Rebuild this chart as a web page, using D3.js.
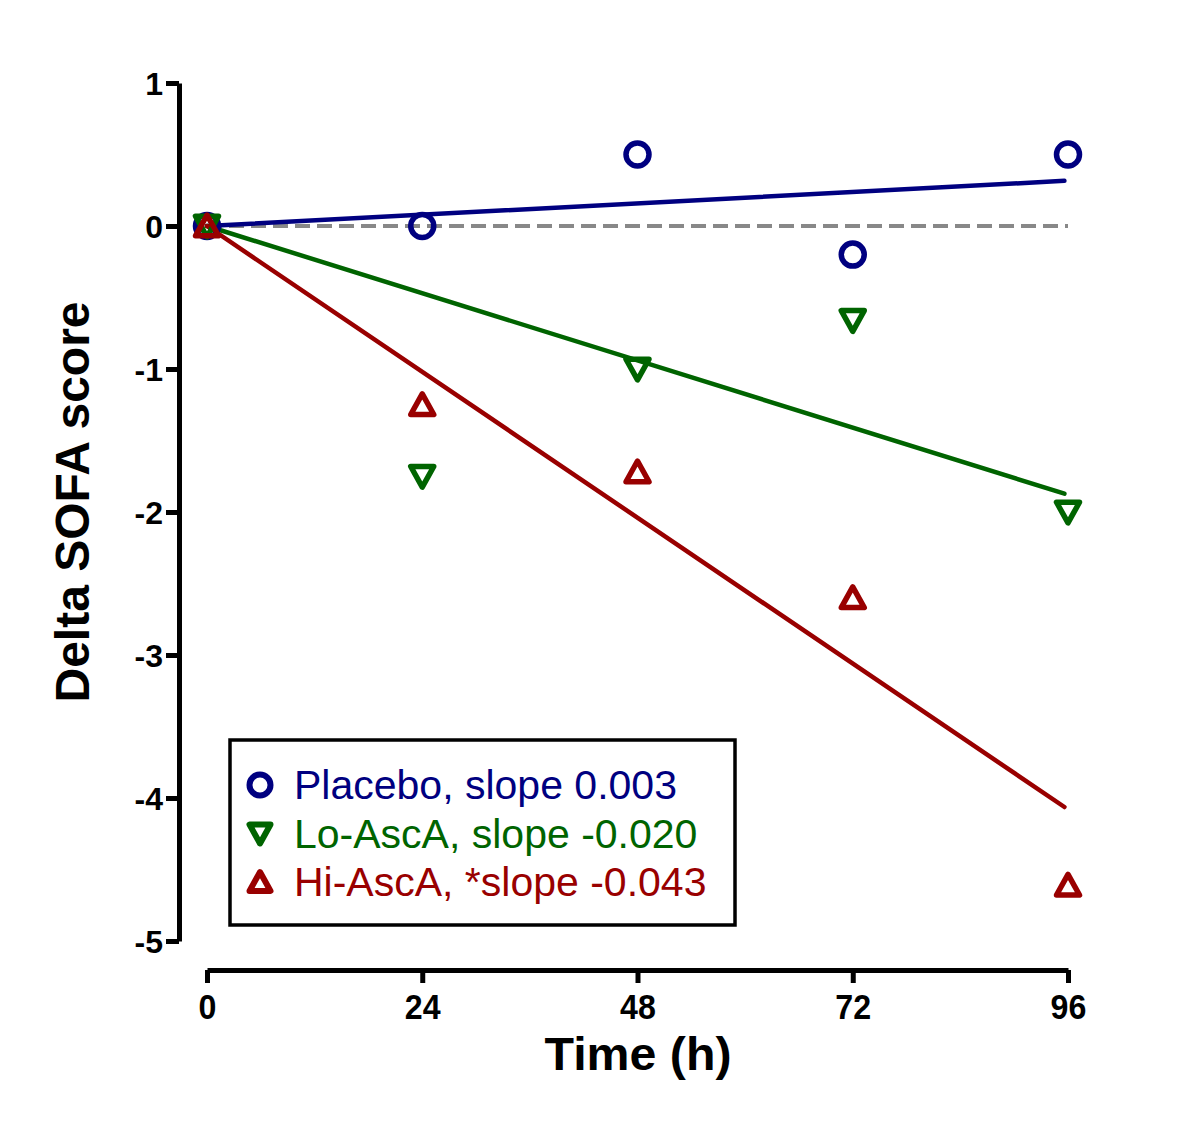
<html>
  <head>
    <meta charset="utf-8">
    <title>Delta SOFA score</title>
    <script src="https://cdnjs.cloudflare.com/ajax/libs/d3/7.8.5/d3.min.js"></script>
    <style>
      body { margin: 0; background: white; }
    </style>
  </head>
  <body>
    <script>
      // hours of measurement
      var hours = [0, 24, 48, 72, 96];
      var xTicks = [0, 24, 48, 72, 96];
      var yTicks = [1, 0, -1, -2, -3, -4, -5];

      // mean delta SOFA per group
      var placebo = [0, 0, 0.5, -0.2, 0.5];
      var loAscA = [0, -1.75, -1.0, -0.66, -2.0];
      var hiAscA = [0, -1.25, -1.72, -2.6, -4.61];

      // fitted line values at 0 h and 96 h
      var placeboFit = [0, 0.317];
      var loFit = [0, -1.88];
      var hiFit = [0, -4.08];

      var legendLabels = ["Placebo, slope 0.003", "Lo-AscA, slope -0.020", "Hi-AscA, *slope -0.043"];

      var width = 1200;
      var height = 1128;
      var font = "'Liberation Sans', Arial, sans-serif";

      var svg = d3.select("body")
        .append("svg")
        .attr("width", width)
        .attr("height", height);

      var xScale = d3.scaleLinear()
        .domain([0, 96])
        .range([207, 1068]);

      var yScale = d3.scaleLinear()
        .domain([-5, 1])
        .range([941, 83]);

      var groups = [
        { name: "placebo", values: placebo, fit: placeboFit, color: "#000080", shape: "circle" },
        { name: "lo", values: loAscA, fit: loFit, color: "#006400", shape: "down" },
        { name: "hi", values: hiAscA, fit: hiFit, color: "#990000", shape: "up" }
      ];

      function shapePath(shape, s) {
        // s = half width of the triangle
        if (shape == "up") return "M0," + (-s * 0.95) + "L" + s + "," + (s * 0.85) + "L" + (-s) + "," + (s * 0.85) + "Z";
        return "M" + (-s) + "," + (-s * 0.85) + "L" + s + "," + (-s * 0.85) + "L0," + (s * 0.95) + "Z";
      }

      function drawMarker(g, shape, color, size, sw) {
        if (shape == "circle") {
          g.append("circle")
            .attr("r", size)
            .attr("fill", "none")
            .attr("stroke", color)
            .attr("stroke-width", sw);
        } else {
          g.append("path")
            .attr("d", shapePath(shape, size))
            .attr("fill", "none")
            .attr("stroke", color)
            .attr("stroke-width", sw)
            .attr("stroke-linejoin", "round");
        }
      }

      // Y axis
      var yAxis = svg.append("g")
        .attr("transform", "translate(179,0)")
        .call(d3.axisLeft(yScale).tickValues(yTicks).tickSize(13).tickSizeOuter(0).tickPadding(3)
          .tickFormat(function(d) { return String(d); }));

      // X axis
      var xAxis = svg.append("g")
        .attr("transform", "translate(0,970)")
        .call(d3.axisBottom(xScale).tickValues(xTicks).tickSize(13).tickSizeOuter(0).tickPadding(11));

      svg.selectAll(".domain")
        .attr("stroke", "black")
        .attr("stroke-width", 5);

      svg.selectAll(".tick line")
        .attr("stroke", "black")
        .attr("stroke-width", 5);

      yAxis.selectAll(".tick text")
        .attr("fill", "black")
        .style("font-family", font)
        .style("font-weight", "bold")
        .style("font-size", "32px")
        .attr("dy", "0.36em");

      xAxis.selectAll(".tick text")
        .attr("fill", "black")
        .style("font-family", font)
        .style("font-weight", "bold")
        .style("font-size", "35px")
        .attr("transform", "scale(0.92,1)");

      // zero reference line
      svg.append("line")
        .attr("x1", xScale(0))
        .attr("x2", xScale(96))
        .attr("y1", yScale(0))
        .attr("y2", yScale(0))
        .attr("stroke", "#888888")
        .attr("stroke-width", 4)
        .attr("stroke-dasharray", "15,7");

      // fitted lines
      groups.forEach(function(grp) {
        svg.append("line")
          .attr("x1", xScale(0))
          .attr("y1", yScale(grp.fit[0]))
          .attr("x2", xScale(95.6))
          .attr("y2", yScale(grp.fit[1] * 95.6 / 96))
          .attr("stroke", grp.color)
          .attr("stroke-width", 4.5)
          .attr("stroke-linecap", "round");
      });

      // points
      groups.forEach(function(grp) {
        svg.selectAll(null)
          .data(grp.values)
          .enter()
          .append("g")
          .attr("transform", function(d, i) { return "translate(" + xScale(hours[i]) + "," + yScale(d) + ")"; })
          .each(function() { drawMarker(d3.select(this), grp.shape, grp.color, 11.5, 5.5); });
      });

      // legend
      var legend = svg.append("g");
      legend.append("rect")
        .attr("x", 230)
        .attr("y", 740)
        .attr("width", 505)
        .attr("height", 185)
        .attr("fill", "white")
        .attr("stroke", "black")
        .attr("stroke-width", 3.5);

      groups.forEach(function(grp, i) {
        var row = legend.append("g")
          .attr("transform", "translate(260," + (785 + i * 48.5) + ")");
        drawMarker(row, grp.shape, grp.color, 10.5, 6);
        row.append("text")
          .attr("x", 34)
          .attr("y", 14)
          .attr("fill", grp.color)
          .style("font-family", font)
          .style("font-size", "41px")
          .text(legendLabels[i]);
      });

      // axis titles
      svg.append("text")
        .attr("x", 638)
        .attr("y", 1070)
        .attr("text-anchor", "middle")
        .attr("textLength", 187)
        .attr("lengthAdjust", "spacingAndGlyphs")
        .style("font-family", font)
        .style("font-weight", "bold")
        .style("font-size", "46px")
        .text("Time (h)");

      svg.append("text")
        .attr("transform", "translate(89,502) rotate(-90)")
        .attr("text-anchor", "middle")
        .style("font-family", font)
        .style("font-weight", "bold")
        .style("font-size", "48px")
        .text("Delta SOFA score");
    </script>
  </body>
</html>
